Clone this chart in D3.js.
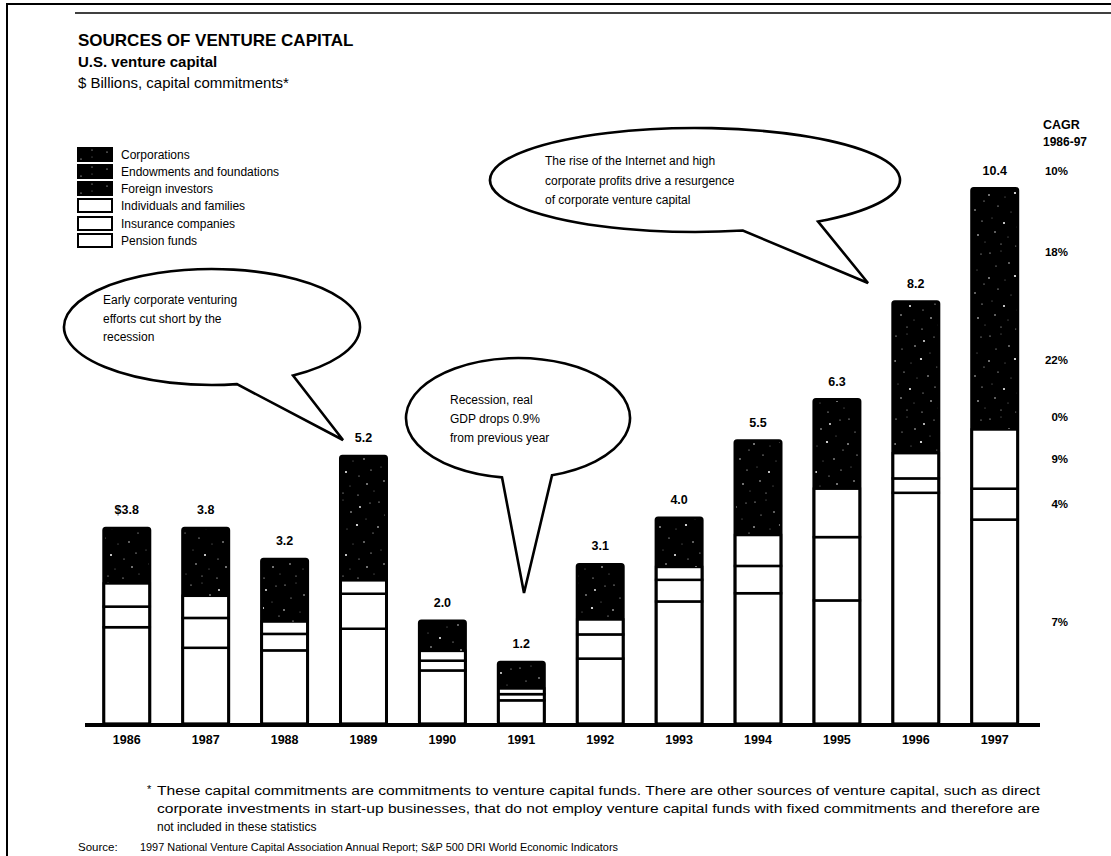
<!DOCTYPE html>
<html>
<head>
<meta charset="utf-8">
<script src="https://cdn.jsdelivr.net/npm/d3@7"></script>
<style>
  html, body { margin: 0; padding: 0; background: #fff; }
  svg { display: block; font-family: "Liberation Sans", Arial, sans-serif; }
</style>
</head>
<body>
<svg id="chart" width="1111" height="856"></svg>
<script>
// Years on the x axis
const years = ["1986","1987","1988","1989","1990","1991","1992","1993","1994","1995","1996","1997"];

// Capital commitments by source, $ billions (stacked top to bottom in legend order)
const corporations = [0.40, 0.41, 0.38, 1.03, 0.14, 0.06, 0.10, 0.33, 0.50, 0.60, 1.10, 2.46];
const endowments   = [0.20, 0.38, 0.38, 0.62, 0.27, 0.28, 0.73, 0.45, 1.00, 0.80, 1.49, 1.75];
const foreign      = [0.47, 0.52, 0.45, 0.76, 0.17, 0.17, 0.24, 0.17, 0.33, 0.33, 0.35, 0.47];
const individuals  = [0.45, 0.43, 0.24, 0.26, 0.19, 0.11, 0.29, 0.25, 0.60, 0.94, 0.49, 1.15];
const insurance    = [0.40, 0.58, 0.32, 0.68, 0.19, 0.12, 0.47, 0.42, 0.53, 1.23, 0.28, 0.60];
const pension      = [1.88, 1.48, 1.43, 1.85, 1.04, 0.46, 1.27, 2.38, 2.54, 2.40, 4.49, 3.97];

const seriesNames = ["Corporations", "Endowments and foundations", "Foreign investors",
                     "Individuals and families", "Insurance companies", "Pension funds"];
const seriesValues = [corporations, endowments, foreign, individuals, insurance, pension];
const darkSeries = [true, true, true, false, false, false];

// Compound annual growth 1986-97, per source and for the total
const cagrLabels = ["18%", "22%", "0%", "9%", "4%", "7%"];
const cagrTotal = "10%";

const footnoteLines = [
  "These capital commitments are commitments to venture capital funds.  There are other sources of venture capital, such as direct",
  "corporate investments in start-up businesses, that do not employ venture capital funds with fixed commitments and therefore are",
  "not included in these statistics"
];
const sourceLabel = "Source:";
const sourceText = "1997 National Venture Capital Association Annual Report; S&P 500 DRI World Economic Indicators";

// ---- table for the stack layout ----
const keys = seriesNames;
const table = years.map((yr, i) => {
  const row = { year: yr };
  keys.forEach((k, j) => row[k] = seriesValues[j][i]);
  return row;
});
// stack from the bottom (pension funds) upwards
const stack = d3.stack().keys(keys.slice().reverse());
const layers = stack(table);
const totals = table.map(r => d3.sum(keys, k => r[k]));

const svg = d3.select("#chart");
const ink = "#000";

// scales
const x = d3.scaleBand().domain(years).range([88, 1033.5]).paddingInner(0.417).paddingOuter(0.2);
const y = d3.scaleLinear().domain([0, d3.max(totals)]).range([724, 188.5]);

// speckle texture used by the dark segments
const defs = svg.append("defs");
const pat = defs.append("pattern").attr("id", "speckle").attr("patternUnits", "userSpaceOnUse")
  .attr("width", 47).attr("height", 83);
pat.append("rect").attr("width", 47).attr("height", 83).attr("fill", ink);
[[3,4,0.6],[14,2,0.4],[31,9,0.9],[41,5,0.5],[9,17,0.5],[22,14,0.7],[37,21,0.4],[2,29,0.8],
 [18,31,0.4],[28,27,1.1],[44,35,0.5],[11,40,0.6],[24,46,0.4],[35,44,0.7],[5,52,0.4],[17,57,1.0],
 [30,61,0.5],[42,55,0.6],[8,66,0.7],[21,71,0.4],[38,69,0.8],[14,78,0.5],[29,80,0.6],[45,76,0.4]]
  .forEach(([cx, cy, r]) => pat.append("circle").attr("cx", cx).attr("cy", cy).attr("r", r).attr("fill", "#fff"));

// frame
svg.append("path").attr("d", "M7,856 V4 H1111").attr("fill", "none").attr("stroke", ink).attr("stroke-width", 2);
svg.append("line").attr("x1", 75).attr("x2", 1111).attr("y1", 13).attr("y2", 13).attr("stroke", ink).attr("stroke-width", 1.6);

// headings
svg.append("text").attr("x", 78).attr("y", 46).attr("font-size", 17).attr("font-weight", "bold")
  .text("SOURCES OF VENTURE CAPITAL");
svg.append("text").attr("x", 78).attr("y", 67).attr("font-size", 15).attr("font-weight", "bold")
  .text("U.S. venture capital");
svg.append("text").attr("x", 78).attr("y", 88).attr("font-size", 15)
  .text("$ Billions, capital commitments*");

// legend
const legendRowY = [155, 172, 189, 206, 224, 241];
const legend = svg.append("g");
seriesNames.forEach((name, i) => {
  const g = legend.append("g").attr("transform", `translate(78,${legendRowY[i]})`);
  g.append("rect").attr("x", 0).attr("y", -7).attr("width", 34).attr("height", 13)
    .attr("fill", darkSeries[i] ? "url(#speckle)" : "#fff")
    .attr("stroke", ink).attr("stroke-width", 2);
  g.append("text").attr("x", 43).attr("y", 4).attr("font-size", 12).text(name);
});

// bars
const barG = svg.append("g");
layers.forEach(layer => {
  const idx = keys.indexOf(layer.key);
  const dark = darkSeries[idx];
  barG.append("g").selectAll("rect").data(layer).join("rect")
    .attr("x", d => x(d.data.year))
    .attr("width", x.bandwidth())
    .attr("y", d => y(d[1]) - (dark ? 0.5 : 0))
    .attr("height", d => y(d[0]) - y(d[1]) + (dark ? 0.5 : 0))
    .attr("fill", dark ? "url(#speckle)" : "#fff")
    .attr("stroke", dark ? "none" : ink)
    .attr("shape-rendering", dark ? "crispEdges" : null)
    .attr("stroke-width", 2.5);
});
// outline of each whole bar
barG.append("g").selectAll("rect").data(table).join("rect")
  .attr("x", d => x(d.year))
  .attr("width", x.bandwidth())
  .attr("y", (d, i) => y(totals[i]))
  .attr("height", (d, i) => y(0) - y(totals[i]))
  .attr("rx", 2)
  .attr("fill", "none").attr("stroke", ink).attr("stroke-width", 3);

// total labels
const fmt = d3.format(".1f");
svg.append("g").selectAll("text").data(totals).join("text")
  .attr("x", (d, i) => x(years[i]) + x.bandwidth() / 2)
  .attr("y", d => y(d) - 14)
  .attr("text-anchor", "middle").attr("font-size", 12.5).attr("font-weight", "bold")
  .text((d, i) => (i === 0 ? "$" : "") + fmt(d));

// x axis
const axis = d3.axisBottom(x).tickSize(0).tickPadding(11);
const axG = svg.append("g").attr("transform", `translate(0,${y(0)})`).call(axis);
axG.select(".domain").remove();
axG.selectAll("text").attr("font-size", 12.5).attr("font-weight", "bold")
  .attr("font-family", "'Liberation Sans', Arial, sans-serif").attr("fill", ink);
svg.append("line").attr("x1", 85).attr("x2", 1040).attr("y1", y(0) + 1).attr("y2", y(0) + 1)
  .attr("stroke", ink).attr("stroke-width", 4);

// CAGR column, aligned with the 1997 segments
const last = years.length - 1;
const cagrX = 1068;
svg.append("text").attr("x", 1043).attr("y", 129).attr("font-size", 12.5).attr("font-weight", "bold").text("CAGR");
svg.append("text").attr("x", 1043).attr("y", 146).attr("font-size", 12).attr("font-weight", "bold").text("1986-97");
svg.append("text").attr("x", cagrX).attr("y", y(totals[last]) - 14).attr("text-anchor", "end")
  .attr("font-size", 11.5).attr("font-weight", "bold").text(cagrTotal);
keys.forEach((k, j) => {
  const layer = layers.find(l => l.key === k);
  const seg = layer[last];
  svg.append("text").attr("x", cagrX).attr("y", y((seg[0] + seg[1]) / 2) + 4)
    .attr("text-anchor", "end").attr("font-size", 11.5).attr("font-weight", "bold").text(cagrLabels[j]);
});

// speech bubbles: ellipse outline opening into a pointed tail
function bubble(cx, cy, rx, ry, tA, tB, tip, lines, tx, ty, lh) {
  const p = t => [cx + rx * Math.cos(t * Math.PI / 180), cy + ry * Math.sin(t * Math.PI / 180)];
  const a = p(tA), b = p(tB);
  const d = `M${b[0]},${b[1]} A${rx},${ry} 0 1 1 ${a[0]},${a[1]} L${tip[0]},${tip[1]} Z`;
  svg.append("path").attr("d", d).attr("fill", "#fff").attr("stroke", ink)
    .attr("stroke-width", 2.6).attr("stroke-linejoin", "miter");
  const t = svg.append("text").attr("font-size", 12).attr("fill", ink);
  lines.forEach((ln, i) => t.append("tspan").attr("x", tx).attr("y", ty + i * lh).text(ln));
}
bubble(212, 327, 148, 58, 56.8, 80.3, [343, 440],
  ["Early corporate venturing", "efforts cut short by the", "recession"], 103, 304, 18.5);
bubble(518, 418, 112, 60, 72.3, 98.2, [524, 593],
  ["Recession, real", "GDP drops 0.9%", "from previous year"], 450, 404, 19);
bubble(695, 180, 205, 52, 53.1, 76.5, [868, 283],
  ["The rise of the Internet and high", "corporate profits drive a resurgence", "of corporate venture capital"], 545, 165, 19.5);

// footnote and source
svg.append("text").attr("x", 147).attr("y", 793).attr("font-size", 11).text("*");
footnoteLines.forEach((ln, i) => {
  const t = svg.append("text").attr("x", 157).attr("y", 795 + i * 18).attr("font-size", 12).text(ln);
  if (i < 2) t.attr("textLength", 883).attr("lengthAdjust", "spacingAndGlyphs");
});
svg.append("text").attr("x", 78).attr("y", 851).attr("font-size", 11.5).text(sourceLabel);
svg.append("text").attr("x", 140).attr("y", 851).attr("font-size", 11.5)
  .attr("textLength", 478).attr("lengthAdjust", "spacingAndGlyphs").text(sourceText);
</script>
</body>
</html>
